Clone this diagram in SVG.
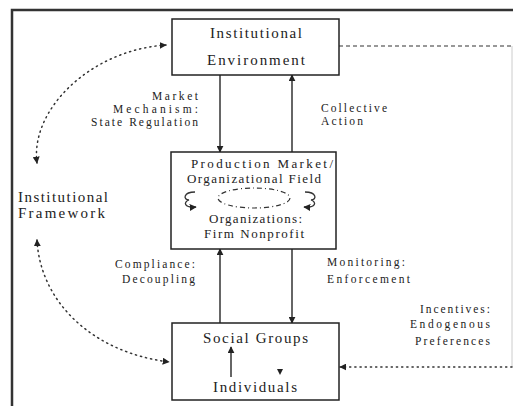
<svg xmlns="http://www.w3.org/2000/svg" width="513" height="406" viewBox="0 0 513 406">
<defs>
<style>
.box{fill:#fff;stroke:#222;stroke-width:1.5}
.t{font-family:"Liberation Serif","DejaVu Serif","Noto Serif","Times New Roman",serif;font-size:15px;fill:#222}
.m{font-family:"Liberation Serif","DejaVu Serif","Noto Serif","Times New Roman",serif;font-size:13px;fill:#222}
.l{font-family:"Liberation Serif","DejaVu Serif","Noto Serif","Times New Roman",serif;font-size:11.5px;fill:#222}
.ln{fill:none;stroke:#333;stroke-width:1.5}
.dot{fill:none;stroke:#333;stroke-width:1.5;stroke-dasharray:1.2,4;stroke-linecap:round}
.dash{fill:none;stroke:#333;stroke-width:1.2;stroke-dasharray:4,3}
</style>
<marker id="ah" viewBox="0 0 10 10" refX="9" refY="5" markerWidth="7" markerHeight="7" markerUnits="userSpaceOnUse" orient="auto-start-reverse">
<path d="M0,0 L10,5 L0,10 z" fill="#222"/>
</marker>
</defs>
<rect width="513" height="406" fill="#fff"/>
<path d="M12,406 L12,10 L513,10" fill="none" stroke="#333" stroke-width="2.5"/>

<g id="connectors">
<line class="ln" x1="220" y1="75" x2="220" y2="152" marker-end="url(#ah)"/>
<line class="ln" x1="292" y1="152" x2="292" y2="75" marker-end="url(#ah)"/>
<line class="ln" x1="220" y1="323" x2="220" y2="249" marker-end="url(#ah)"/>
<line class="ln" x1="292" y1="249" x2="292" y2="323" marker-end="url(#ah)"/>
<path class="dot" d="M37,163 C30,110 90,50 166,45" marker-start="url(#ah)" marker-end="url(#ah)"/>
<path class="dot" d="M37,240 C40,300 90,352 169,362" marker-start="url(#ah)" marker-end="url(#ah)"/>
<path class="dash" d="M339,46 L512,46"/>
<path d="M512,46 L512,367" fill="none" stroke="#ccc" stroke-width="1"/>
<path class="dot" d="M512,367 L340,367" marker-end="url(#ah)"/>
</g>

<g id="institutional-environment">
<rect class="box" x="172" y="19" width="167" height="56"/>
<text class="t" x="210" y="38" textLength="92" lengthAdjust="spacing">Institutional</text>
<text class="t" x="207" y="65" textLength="98" lengthAdjust="spacing">Environment</text>
</g>

<g id="production-market">
<rect class="box" x="171" y="152" width="165" height="97"/>
<text class="m" x="191" y="168" textLength="142" lengthAdjust="spacing">Production Market/</text>
<text class="m" x="187" y="183" textLength="134" lengthAdjust="spacing">Organizational Field</text>
<ellipse cx="254" cy="198" rx="36" ry="10" fill="none" stroke="#333" stroke-width="1.2" stroke-dasharray="5,3,1,3"/>
<path d="M195,192 C183,192 183,200 189,200 C183,202 184,208 196,207" fill="none" stroke="#333" stroke-width="1.3" marker-end="url(#ah)"/>
<path d="M305,192 C317,192 317,200 311,200 C317,202 316,208 304,207" fill="none" stroke="#333" stroke-width="1.3" marker-end="url(#ah)"/>
<text class="m" x="209" y="223" textLength="93" lengthAdjust="spacing">Organizations:</text>
<text class="m" x="204" y="238" textLength="100" lengthAdjust="spacing">Firm Nonprofit</text>
</g>

<g id="social-groups">
<rect class="box" x="172" y="323" width="167" height="77"/>
<text class="t" x="203" y="343" textLength="105" lengthAdjust="spacing">Social Groups</text>
<line class="ln" x1="231" y1="377" x2="231" y2="347" marker-end="url(#ah)"/>
<path d="M277,369 L283,369 L280,375 z" fill="#222"/>
<text class="t" x="213" y="392" textLength="84" lengthAdjust="spacing">Individuals</text>
</g>

<g id="labels">
<text class="l" x="152" y="100" textLength="46" lengthAdjust="spacing">Market</text>
<text class="l" x="113" y="113" textLength="85" lengthAdjust="spacing">Mechanism:</text>
<text class="l" x="91" y="126" textLength="107" lengthAdjust="spacing">State Regulation</text>
<text class="l" x="321" y="112" textLength="66" lengthAdjust="spacing">Collective</text>
<text class="l" x="321" y="125" textLength="42" lengthAdjust="spacing">Action</text>
<text class="t" x="18" y="202" textLength="90" lengthAdjust="spacing">Institutional</text>
<text class="t" x="18" y="218" textLength="87" lengthAdjust="spacing">Framework</text>
<text class="l" x="115" y="268" textLength="80" lengthAdjust="spacing">Compliance:</text>
<text class="l" x="122" y="283" textLength="73" lengthAdjust="spacing">Decoupling</text>
<text class="l" x="327" y="266" textLength="78" lengthAdjust="spacing">Monitoring:</text>
<text class="l" x="327" y="283" textLength="83" lengthAdjust="spacing">Enforcement</text>
<text class="l" x="420" y="313" textLength="70" lengthAdjust="spacing">Incentives:</text>
<text class="l" x="410" y="328" textLength="80" lengthAdjust="spacing">Endogenous</text>
<text class="l" x="415" y="345" textLength="75" lengthAdjust="spacing">Preferences</text>
</g>
</svg>
